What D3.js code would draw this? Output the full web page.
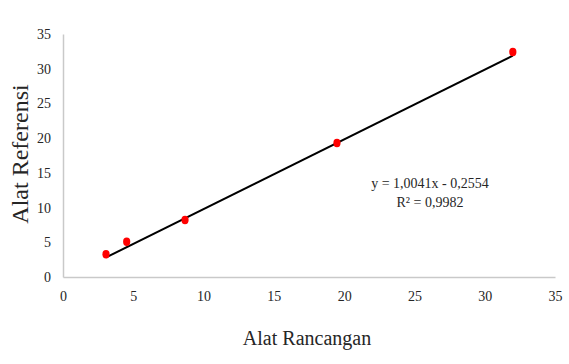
<!DOCTYPE html>
<html>
<head>
<meta charset="utf-8">
<script src="https://cdn.jsdelivr.net/npm/d3@7"></script>
<style>
  body { margin: 0; background: #fff; }
  svg text { font-family: "Liberation Serif", "Times New Roman", serif !important; fill: #262626; }
</style>
</head>
<body>
<div id="chart"></div>
<script>
// values
const alatRancangan = [3.06, 4.53, 8.68, 19.49, 32.0];
const alatReferensi = [3.27, 5.08, 8.21, 19.3, 32.4];
const tickValues = [0, 5, 10, 15, 20, 25, 30, 35];
const slope = 1.0041;
const intercept = -0.2554;
const eqLabels = ["y = 1,0041x - 0,2554", "R² = 0,9982"];

const width = 569, height = 364;

const svg = d3.select("#chart").append("svg")
    .attr("width", width)
    .attr("height", height);

const x = d3.scaleLinear().domain([0, 35]).range([63, 555]);
const y = d3.scaleLinear().domain([0, 35]).range([277, 34]);

// axes, no tick marks, light grey lines
const xAxis = svg.append("g")
    .attr("transform", "translate(0," + y(0) + ")")
    .call(d3.axisBottom(x).tickValues(tickValues).tickSize(0).tickPadding(14));
const yAxis = svg.append("g")
    .attr("transform", "translate(" + x(0) + ",0)")
    .call(d3.axisLeft(y).tickValues(tickValues).tickSize(0).tickPadding(12));

[xAxis, yAxis].forEach(a => {
    a.attr("font-family", "'Liberation Serif', serif").attr("font-size", 14);
    a.select(".domain").attr("stroke", "#c9c9c9").attr("stroke-width", 1.5);
    a.selectAll("text").attr("fill", "#262626");
});

// trend line from min x to max x
const x0 = d3.min(alatRancangan), x1 = d3.max(alatRancangan);
svg.append("line")
    .attr("x1", x(x0)).attr("y1", y(slope * x0 + intercept))
    .attr("x2", x(x1)).attr("y2", y(slope * x1 + intercept))
    .attr("stroke", "#000")
    .attr("stroke-width", 2);

// points
svg.selectAll("ellipse.pt")
    .data(alatRancangan)
    .enter()
    .append("ellipse")
    .attr("class", "pt")
    .attr("cx", d => x(d))
    .attr("cy", (d, i) => y(alatReferensi[i]))
    .attr("rx", 3.6)
    .attr("ry", 4.2)
    .attr("fill", "#ff0000");

// equation
svg.selectAll("text.eq")
    .data(eqLabels)
    .enter()
    .append("text")
    .attr("class", "eq")
    .attr("x", 430)
    .attr("y", (d, i) => 188 + i * 19)
    .attr("text-anchor", "middle")
    .style("font-size", "14px")
    .text(d => d);

// axis titles
svg.append("text")
    .attr("x", 307)
    .attr("y", 345)
    .attr("text-anchor", "middle")
    .style("font-size", "20px")
    .text("Alat Rancangan");

svg.append("text")
    .attr("transform", "translate(28,154) rotate(-90)")
    .attr("text-anchor", "middle")
    .style("font-size", "24px")
    .text("Alat Referensi");
</script>
</body>
</html>
